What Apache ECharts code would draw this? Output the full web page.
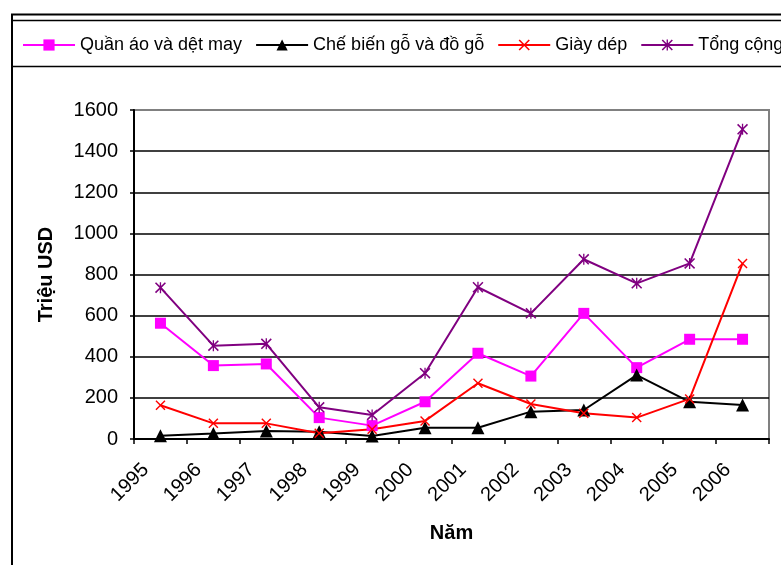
<!DOCTYPE html>
<html>
<head>
<meta charset="utf-8">
<script src="https://cdn.jsdelivr.net/npm/echarts@6/dist/echarts.min.js"></script>
<style>
  html, body { margin: 0; padding: 0; background: #fff; }
  #chart { width: 781px; height: 565px; }
</style>
</head>
<body>
<div id="chart"></div>
<script>
// Export values, million USD, 1995-2006
var years = ['1995', '1996', '1997', '1998', '1999', '2000', '2001', '2002', '2003', '2004', '2005', '2006'];
var quanAo = [563, 357, 365, 104, 65, 181, 417, 306, 611, 347, 485, 485];
var goDoGo = [16, 27, 39, 35, 15, 55, 55, 133, 141, 311, 181, 165];
var giayDep = [164, 76, 76, 28, 47, 88, 271, 170, 125, 104, 195, 854];
var tongCong = [736, 454, 463, 154, 117, 320, 738, 611, 874, 757, 854, 1506];
var yTicks = [0, 200, 400, 600, 800, 1000, 1200, 1400, 1600];

var FONT = 'Liberation Sans, Arial, sans-serif';

// filled X glyph and an asterisk (X plus vertical bar)
var xPath = 'path://M0,1 L1,0 L5,4 L9,0 L10,1 L6,5 L10,9 L9,10 L5,6 L1,10 L0,9 L4,5 Z';
var starPath = 'path://M0,1 L1,0 L5,4 L9,0 L10,1 L6,5 L10,9 L9,10 L5,6 L1,10 L0,9 L4,5 Z M4.4,0 L5.6,0 L5.6,10 L4.4,10 Z';

function lineSeries(name, data, color, symbol, size) {
  return {
    name: name,
    type: 'line',
    data: data,
    symbol: symbol,
    symbolSize: size,
    showAllSymbol: true,
    itemStyle: { color: color },
    lineStyle: { color: color, width: 2 },
    emphasis: { disabled: true },
    animation: false,
    z: 3
  };
}

// gridlines are black; the top one is the grey plot border
var gridColors = yTicks.map(function (v, i) {
  return i === yTicks.length - 1 ? '#808080' : '#000000';
});

var chart = echarts.init(document.getElementById('chart'), null, { renderer: 'canvas' });

chart.setOption({
  backgroundColor: '#ffffff',
  animation: false,
  graphic: [
    { type: 'rect', shape: { x: 12, y: 14.5, width: 820, height: 600 },
      style: { fill: 'none', stroke: '#000', lineWidth: 2 }, silent: true, z: 0 },
    { type: 'rect', shape: { x: 12, y: 20.5, width: 820, height: 46 },
      style: { fill: 'none', stroke: '#000', lineWidth: 1.5 }, silent: true, z: 0 }
  ],
  legend: {
    left: 17,
    top: 31,
    width: 1000,
    itemWidth: 52,
    itemHeight: 14,
    itemGap: 13,
    textStyle: { fontFamily: FONT, fontSize: 18, color: '#000' },
    data: ['Quần áo và dệt may', 'Chế biến gỗ và đồ gỗ', 'Giày dép', 'Tổng cộng']
  },
  grid: {
    left: 134, right: 12, top: 110, bottom: 126,
    show: true, borderColor: '#808080', borderWidth: 2, backgroundColor: '#fff'
  },
  xAxis: {
    type: 'category',
    data: years,
    boundaryGap: true,
    name: 'Năm',
    nameLocation: 'middle',
    nameGap: 84,
    nameTextStyle: { fontFamily: FONT, fontSize: 20, fontWeight: 'bold', color: '#000' },
    axisLine: { lineStyle: { color: '#000', width: 2 } },
    axisTick: { show: true, length: 5, lineStyle: { color: '#000', width: 1.5 } },
    axisLabel: {
      rotate: 45, margin: 13, padding: [0, 21, 0, 0],
      fontFamily: FONT, fontSize: 20, color: '#000', interval: 0
    },
    splitLine: { show: false }
  },
  yAxis: {
    type: 'value',
    min: yTicks[0],
    max: yTicks[yTicks.length - 1],
    interval: yTicks[1] - yTicks[0],
    name: 'Triệu USD',
    nameLocation: 'middle',
    nameGap: 78,
    nameRotate: 90,
    nameTextStyle: { fontFamily: FONT, fontSize: 20, fontWeight: 'bold', color: '#000' },
    axisLine: { show: true, lineStyle: { color: '#000', width: 2 } },
    axisTick: { show: true, length: 4, lineStyle: { color: '#000', width: 1.5 } },
    axisLabel: {
      margin: 16, fontFamily: FONT, fontSize: 20, color: '#000',
      formatter: function (v) { return String(v); }
    },
    splitLine: { show: true, lineStyle: { color: gridColors, width: 1.5 } }
  },
  series: [
    lineSeries('Quần áo và dệt may', quanAo, '#FF00FF', 'rect', 11),
    lineSeries('Chế biến gỗ và đồ gỗ', goDoGo, '#000000', 'triangle', 13),
    lineSeries('Giày dép', giayDep, '#FF0000', xPath, 10),
    lineSeries('Tổng cộng', tongCong, '#800080', starPath, 11)
  ]
});
</script>
</body>
</html>
